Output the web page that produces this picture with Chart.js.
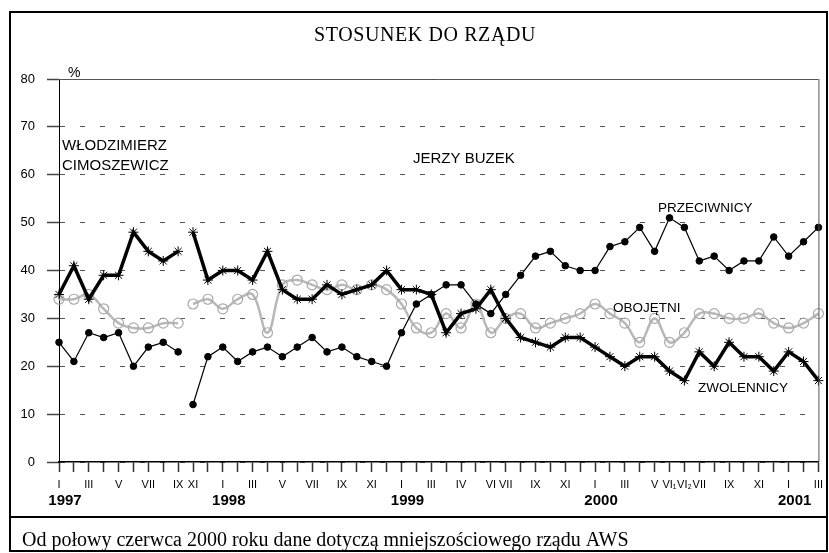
<!DOCTYPE html>
<html><head><meta charset="utf-8">
<script src="https://cdn.jsdelivr.net/npm/chart.js@4/dist/chart.umd.min.js"></script>
<style>html,body{margin:0;padding:0;background:#fff;overflow:hidden}#wrap{width:829px;height:553px;position:relative}</style>
</head><body><div id="wrap"><canvas id="c" width="829" height="553"></canvas></div>
<script>
// ---- data ----
const monthLabels = ['I','','III','','V','','VII','','IX','XI','',
  'I','','III','','V','','VII','','IX','','XI','',
  'I','','III','','IV','','VI','VII','','IX','','XI','',
  'I','','III','','V','VI\u2081','VI\u2082','VII','','IX','','XI','',
  'I','','III'];
const yearNames = ['1997','1998','1999','2000','2001'];
const yearStartIndex = [0, 11, 23, 36, 49];
const govChangeIndex = 9;
const zwolennicy = [35,41,34,39,39,48,44,42,44,
  48,38,40,40,38,44,36,34,34,37,35,36,37,40,36,36,35,27,31,32,36,30,26,25,24,26,26,24,22,20,22,22,19,17,23,20,25,22,22,19,23,21,17];
const przeciwnicy = [25,21,27,26,27,20,24,25,23,
  12,22,24,21,23,24,22,24,26,23,24,22,21,20,27,33,35,37,37,33,31,35,39,43,44,41,40,40,45,46,49,44,51,49,42,43,40,42,42,47,43,46,49];
const obojetni = [34,34,35,32,29,28,28,29,29,
  33,34,32,34,35,27,37,38,37,36,37,36,37,36,33,28,27,31,28,33,27,30,31,28,29,30,31,33,31,29,25,30,25,27,31,31,30,30,31,29,28,29,31];
const yTicks = [0,10,20,30,40,50,60,70,80];
const titleText = 'STOSUNEK DO RZĄDU';
const footText = 'Od połowy czerwca 2000 roku dane dotyczą mniejszościowego rządu AWS';
const unitText = '%';
const govNames = [['WŁODZIMIERZ','CIMOSZEWICZ'], ['JERZY BUZEK']];
const seriesNames = ['ZWOLENNICY','PRZECIWNICY','OBOJĘTNI'];

const SANS = '"Liberation Sans", Arial, sans-serif';
const SERIF = '"Liberation Serif", "Times New Roman", serif';

function part(arr, first) {
  return arr.map((v, i) => (first ? (i < govChangeIndex) : (i >= govChangeIndex)) ? v : null);
}
const styles = {
  zw: {borderColor:'#000', borderWidth:3.5, pointStyle:'star', pointRadius:5, pointBorderColor:'#000', pointBorderWidth:1, pointBackgroundColor:'#000', tension:0, order:0},
  pr: {borderColor:'#000', borderWidth:1.2, pointStyle:'circle', pointRadius:3.3, pointBorderColor:'#000', pointBackgroundColor:'#000', pointBorderWidth:1, tension:0, order:1},
  ob: {borderColor:'#b8b8b8', borderWidth:2.5, pointStyle:'circle', pointRadius:5, pointBorderColor:'#a8a8a8', pointBackgroundColor:'rgba(255,255,255,0)', pointBorderWidth:1.2, tension:0.4, order:2}
};
const datasets = [];
[[zwolennicy,'zw',seriesNames[0]],[przeciwnicy,'pr',seriesNames[1]],[obojetni,'ob',seriesNames[2]]].forEach(([arr,k,name]) => {
  [true,false].forEach(first => {
    datasets.push(Object.assign({label:name, data:part(arr, first), spanGaps:false, clip:false, fill:false}, styles[k]));
  });
});

const deco = {
  id:'deco',
  afterDraw(chart) {
    const ctx = chart.ctx, a = chart.chartArea, xs = chart.scales.x;
    ctx.save();
    // plot top/right borders
    ctx.strokeStyle = '#555'; ctx.lineWidth = 1;
    ctx.beginPath(); ctx.moveTo(a.left, a.top + 0.5); ctx.lineTo(a.right, a.top + 0.5);
    ctx.moveTo(a.right + 0.5, a.top); ctx.lineTo(a.right + 0.5, a.bottom); ctx.stroke();
    // outer frame
    ctx.strokeStyle = '#000'; ctx.lineWidth = 2;
    ctx.strokeRect(10, 12, 817, 539);
    ctx.beginPath(); ctx.moveTo(10, 517); ctx.lineTo(827, 517); ctx.stroke();
    ctx.fillStyle = '#000';
    // title
    ctx.font = '20px ' + SERIF; ctx.textAlign = 'center'; ctx.textBaseline = 'alphabetic';
    try { ctx.letterSpacing = '0.6px'; } catch(e) {}
    ctx.fillText(titleText, 425, 41);
    try { ctx.letterSpacing = '0px'; } catch(e) {}
    // footnote
    ctx.textAlign = 'left'; ctx.font = '20px ' + SERIF;
    ctx.fillText(footText, 22, 546);
    // unit
    ctx.font = '14px ' + SANS; ctx.fillText(unitText, 68, 77);
    // government names
    ctx.font = '15px ' + SANS;
    ctx.fillText(govNames[0][0], 62, 150);
    ctx.fillText(govNames[0][1], 62, 170);
    ctx.fillText(govNames[1][0], 413, 163);
    // series names
    ctx.font = '13.5px ' + SANS;
    ctx.fillText(seriesNames[1], 658, 212);
    ctx.fillText(seriesNames[2], 613, 312);
    ctx.fillText(seriesNames[0], 698, 392);
    // years
    ctx.font = 'bold 15px ' + SANS; ctx.textAlign = 'center';
    yearNames.forEach((y, i) => ctx.fillText(y, xs.getPixelForValue(yearStartIndex[i]) + 6, 505));
    ctx.restore();
  }
};

new Chart(document.getElementById('c'), {
  type:'line',
  data:{labels:monthLabels, datasets},
  options:{
    responsive:false, animation:false, devicePixelRatio:1,
    layout:{padding:{left:0, right:8, top:79, bottom:0}},
    plugins:{legend:{display:false}, tooltip:{enabled:false}, title:{display:false}},
    scales:{
      x:{type:'category', offset:false,
        grid:{drawOnChartArea:false, drawTicks:true, tickLength:10, tickColor:'#333', tickWidth:1.5},
        border:{display:true, color:'#000', width:1.5},
        ticks:{autoSkip:false, maxRotation:0, minRotation:0, padding:6, color:'#000', font:{family:SANS, size:11}},
        afterFit(s){ s.height = 91; }
      },
      y:{min:0, max:80,
        afterBuildTicks(s){ s.ticks = yTicks.map(v => ({value:v})); },
        ticks:{color:'#000', padding:12, font:{family:SANS, size:13}},
        grid:{color:'#555', lineWidth:1, tickLength:12, tickColor:'#444', tickWidth:1.5, tickBorderDash:[]},
        border:{display:true, color:'#000', width:1, dash:[5,15]},
        afterFit(s){ s.width = 59; }
      }
    }
  },
  plugins:[deco]
});
</script></body></html>
